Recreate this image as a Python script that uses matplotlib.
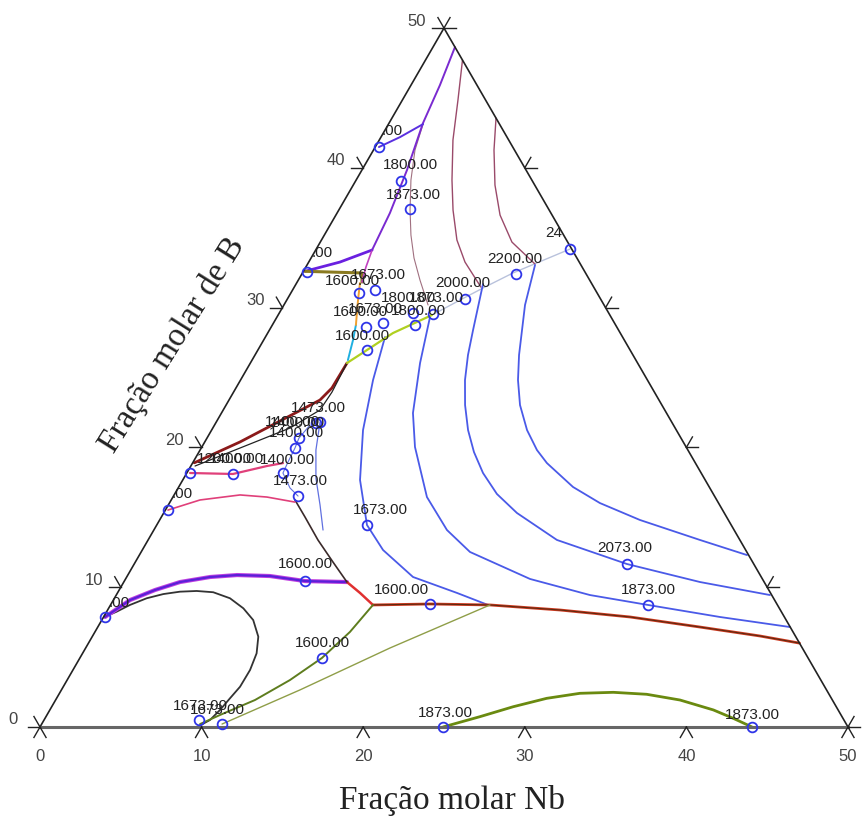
import numpy as np
import matplotlib
matplotlib.use("Agg")
import matplotlib.pyplot as plt

S3 = np.sqrt(3) / 2

# ---------------- axis ticks ----------------
tick_values = [0, 10, 20, 30, 40, 50]
tick_labels = ["0", "10", "20", "30", "40", "50"]

# ---------------- curves, points as (Nb, B) molar % ----------------
black_loop = [(0.1, 7.9), (0.62, 8.25), (1.20, 8.73), (2.00, 9.21), (2.88, 9.51), (3.82, 9.68),
              (4.83, 9.73), (5.90, 9.64), (7.15, 9.21), (8.34, 8.49), (9.37, 7.65), (10.28, 6.46),
              (10.77, 5.27), (10.96, 4.08), (10.94, 2.88), (10.73, 2.05), (10.53, 1.22),
              (10.27, 0.50), (9.72, 0.0)]
purple_1600 = [(0.09, 7.87), (1.03, 9.08), (2.22, 9.80), (3.48, 10.37), (5.16, 10.73),
               (6.76, 10.87), (8.83, 10.80), (11.18, 10.44), (13.81, 10.37)]
red_short = [(13.81, 10.37), (15.01, 9.59), (16.24, 8.73)]
redbrown_long = [(16.24, 8.73), (19.73, 8.80), (23.48, 8.73), (27.99, 8.37), (32.58, 7.87),
                 (37.27, 7.15), (41.30, 6.51), (44.0, 6.0)]
dark_mid = [(7.66, 16.24), (8.89, 15.02), (10.51, 13.38), (12.23, 11.80), (13.81, 10.37)]
pink_low = [(0.16, 15.52), (1.78, 16.24), (4.08, 16.60), (5.82, 16.45), (7.73, 16.09)]
pink_up = [(0.20, 18.17), (2.89, 18.10), (4.71, 18.67), (5.60, 18.88)]
brown_band = [(0.1, 18.9), (2.18, 20.39), (3.91, 21.89), (5.63, 23.39), (5.94, 24.25), (5.98, 26.04)]
black_band = [(0.26, 18.67), (2.87, 20.24), (4.78, 21.39), (5.99, 22.68), (6.09, 23.96), (5.98, 26.04)]
yellowgreen = [(5.98, 26.04), (6.87, 27.11), (7.75, 28.18), (9.52, 29.47)]
light_line = [(9.52, 29.47), (10.72, 30.54), (11.71, 31.40), (13.03, 32.48), (15.70, 34.19)]
cyan_seg = [(5.93, 26.25), (5.53, 27.68), (5.17, 28.76)]
orange_seg = [(5.17, 28.76), (4.41, 30.54), (3.92, 31.76)]
purple_ul = [(0.1, 32.6), (1.93, 33.26), (3.49, 34.12)]
olive_ul = [(0.1, 32.6), (3.69, 32.48), (4.01, 31.83)]
magenta_ul = [(3.49, 34.12), (3.72, 32.90), (4.01, 31.83)]
purple_main = [(1.36, 48.64), (1.79, 45.92), (2.10, 43.20), (2.79, 39.84), (3.27, 36.77), (3.49, 34.12)]
purple_top = [(0.23, 41.49), (1.18, 42.20), (2.14, 43.13)]
mauve_1 = [(2.14, 43.13), (2.57, 41.27), (3.39, 39.13), (4.41, 36.98), (5.36, 35.19),
           (6.37, 33.55), (7.53, 31.97), (8.92, 30.19)]
mauve_2 = [(2.29, 47.71), (3.44, 44.85), (4.56, 41.99), (5.93, 39.13), (7.07, 36.98),
           (8.38, 34.84), (9.67, 33.26), (11.55, 31.47)]
mauve_3 = [(6.44, 43.56), (7.46, 41.27), (8.77, 38.77), (10.16, 36.62), (11.86, 34.69), (14.07, 33.12)]
blue_A = [(7.40, 27.90), (8.20, 24.82), (9.37, 21.24), (10.97, 17.67), (13.01, 14.45),
          (14.90, 12.66), (17.72, 10.73), (21.01, 9.59), (23.36, 8.73)]
blue_B = [(9.47, 29.33), (10.50, 26.04), (11.85, 22.46), (13.19, 20.03), (15.72, 16.45),
          (18.14, 14.09), (20.35, 12.52), (25.03, 10.59), (29.31, 9.44), (33.26, 8.73),
          (38.14, 7.87), (42.84, 7.15)]
blue_C = [(11.57, 31.69), (12.60, 28.40), (13.18, 26.61), (13.89, 24.82), (14.79, 23.03),
          (15.87, 21.24), (17.02, 19.67), (18.33, 18.17), (19.94, 16.67), (21.86, 15.31),
          (25.30, 13.38), (30.49, 11.66), (35.66, 10.37), (40.45, 9.44)]
blue_D = [(14.11, 33.05), (14.92, 30.19), (15.63, 28.40), (16.34, 26.61), (17.17, 24.82),
          (18.19, 23.03), (19.52, 21.24), (20.85, 19.81), (21.93, 18.88), (24.40, 17.17),
          (26.64, 16.02), (29.72, 14.81), (34.15, 13.38), (37.60, 12.30)]
thin_blue_1 = [(6.42, 21.82), (7.17, 19.81), (8.17, 17.81), (9.39, 15.88), (10.47, 14.09)]
thin_blue_2 = [(5.91, 21.60), (5.69, 20.67), (5.80, 19.96), (5.87, 18.96), (5.95, 18.17),
               (6.92, 17.10), (7.71, 16.52)]
green_1 = [(16.24, 8.73), (15.78, 6.80), (14.98, 4.94), (13.79, 3.36), (12.34, 1.93),
           (10.71, 0.86), (9.80, 0.21)]
green_2 = [(23.48, 8.73), (18.83, 5.65), (14.76, 2.65), (11.16, 0.21)]
green_arc = [(24.94, 0.0), (26.86, 0.74), (28.56, 1.45), (30.33, 2.05), (32.21, 2.41),
             (34.24, 2.48), (36.37, 2.34), (38.64, 1.93), (41.06, 1.22), (42.59, 0.62),
             (44.06, 0.0)]

# labelled points: Nb, B, label, label offset (px)
pts_nb = [0.23, 2.81, 4.37, 0.25, 4.22, 5.10, 5.87, 6.78, 6.75, 8.28, 8.83, 9.55, 10.99, 13.26,
          15.70, 6.42, 6.20, 5.69, 5.80, 5.95, 2.89, 0.20, 7.71, 0.16, 13.01, 11.18, 0.09,
          19.73, 14.98, 9.59, 11.16, 24.94, 44.06, 30.49, 33.26]
pts_b = [41.49, 39.06, 37.05, 32.55, 31.04, 31.26, 28.61, 28.90, 26.97, 29.61, 28.76, 29.54,
         30.62, 32.40, 34.19, 21.82, 21.75, 20.67, 19.96, 18.17, 18.10, 18.17, 16.52, 15.52,
         14.45, 10.44, 7.87, 8.80, 4.94, 0.50, 0.21, 0.0, 0.0, 11.66, 8.73]
pts_lab = [".00", "1800.00", "1873.00", ".00", "1600.00", "1673.00", "1600.00", "1673.00",
           "1600.00", "1800.00", "1800.00", "1873.00", "2000.00", "2200.00", "24", "1473.00",
           "1400.00", "1400.00", "1400.00", "1400.00", "1400.00", "1200.00", "1473.00", ".00",
           "1673.00", "1600.00", ".00", "1600.00", "1600.00", "1673.00", "1673.00", "1873.00",
           "1873.00", "2073.00", "1873.00"]
pts_dx = [13, 9, 3, 15, -7, 3, -6, -8, -5, -5, 3, 3, -2, -1, -16, -2, -23, -2, 1, 4, 3, 34,
          2, 14, 13, 0, 14, -28, 0, 1, -5, 2, 0, -2, 0]
pts_dy = [16, 16, 14, 19, 12, 15, 15, 14, 14, 15, 14, 16, 16, 15, 16, 14, 1, 15, 15, 13, 15,
          14, 15, 16, 15, 17, 14, 14, 15, 14, 14, 14, 12, 16, 15]


def cart(points):
    a = np.asarray(points, dtype=float)
    nb, b = a[:, 0], a[:, 1]
    return nb + b / 2.0, b * S3


fig = plt.figure(figsize=(8.63, 8.23), dpi=100)
ax = fig.add_axes([0, 0, 1, 1])
ax.set_xlim(-2.475, 50.93)
ax.set_ylim(-5.948, 45.04)
ax.axis("off")

# frame
fx, fy = cart([(0, 0), (0, 50), (50, 0)])
ax.plot([fx[0], fx[1]], [fy[0], fy[1]], color="#222222", lw=1.2, zorder=5)
ax.plot([fx[1], fx[2]], [fy[1], fy[2]], color="#222222", lw=1.2, zorder=5)
ax.plot([fx[0], fx[2]], [fy[0], fy[2]], color="#666666", lw=2.2, zorder=5)

# ticks
L = 0.75
for v, lab in zip(tick_values, tick_labels):
    # bottom axis
    x0, y0 = cart([(v, 0)])
    x0, y0 = x0[0], y0[0]
    for sx in (-0.5, 0.5):
        ax.plot([x0, x0 + sx * L], [y0, y0 - S3 * L], color="#222222", lw=1.0, zorder=5)
    ax.annotate(lab, (x0, y0), xytext=(0, -30), textcoords="offset pixels", ha="center",
                va="center", fontsize=12, color="#444444", family="Liberation Sans")
    # left axis
    x1, y1 = cart([(0, v)])
    x1, y1 = x1[0], y1[0]
    ax.plot([x1, x1 - L], [y1, y1], color="#222222", lw=1.0, zorder=5)
    ax.plot([x1, x1 - 0.5 * L], [y1, y1 + S3 * L], color="#222222", lw=1.0, zorder=5)
    ax.annotate(lab, (x1, y1), xytext=(-27, 7), textcoords="offset pixels", ha="center",
                va="center", fontsize=12, color="#444444", family="Liberation Sans")
    # right axis
    x2, y2 = cart([(50 - v, v)])
    x2, y2 = x2[0], y2[0]
    ax.plot([x2, x2 + L], [y2, y2], color="#222222", lw=1.0, zorder=5)
    ax.plot([x2, x2 + 0.5 * L], [y2, y2 + S3 * L], color="#222222", lw=1.0, zorder=5)

curves = [
    (light_line, "#b9c2dc", 1.0),
    (mauve_1, "#a07080", 0.8),
    (mauve_2, "#9a4a6a", 1.0),
    (mauve_3, "#9a4a6a", 1.0),
    (blue_A, "#4a5ae8", 1.3),
    (blue_B, "#4a5ae8", 1.3),
    (blue_C, "#4a5ae8", 1.3),
    (blue_D, "#4a5ae8", 1.3),
    (thin_blue_1, "#6070e0", 0.9),
    (thin_blue_2, "#6070e0", 0.8),
    (black_loop, "#333333", 1.3),
    (purple_1600, "#c040e0", 3.0),
    (purple_1600, "#5a20d8", 1.6),
    (red_short, "#e03030", 1.8),
    (redbrown_long, "#d03a20", 2.0),
    (redbrown_long, "#5a2a10", 0.8),
    (dark_mid, "#3a2a2a", 1.2),
    (pink_low, "#e0407a", 1.2),
    (pink_up, "#e0407a", 1.6),
    (brown_band, "#8b1a1a", 2.0),
    (black_band, "#222222", 0.9),
    (yellowgreen, "#b0d020", 1.6),
    (cyan_seg, "#20b0e0", 1.4),
    (orange_seg, "#f0a030", 1.4),
    (purple_ul, "#6a20e0", 2.0),
    (olive_ul, "#8a7a20", 2.2),
    (magenta_ul, "#c040c0", 1.2),
    (purple_main, "#7a2ad0", 1.4),
    (purple_top, "#5a30e0", 1.4),
    (green_1, "#5e7d1e", 1.4),
    (green_2, "#8f9e48", 1.0),
    (green_arc, "#6a8a10", 2.0),
]
for pts, col, lw in curves:
    x, y = cart(pts)
    ax.plot(x, y, color=col, lw=lw, solid_capstyle="round", solid_joinstyle="round", zorder=3)

px, py = cart(list(zip(pts_nb, pts_b)))
ax.plot(px, py, ls="none", marker="o", ms=7, mfc="none", mec="#2f35e8", mew=1.3, zorder=6)
for x, y, lab, dx, dy in zip(px, py, pts_lab, pts_dx, pts_dy):
    ax.annotate(lab, (x, y), xytext=(dx, dy), textcoords="offset pixels", ha="center",
                va="center", fontsize=11, color="#222222", family="Liberation Sans", zorder=7)

fig.text(452 / 863, 1 - 800 / 823, "Fração molar Nb", ha="center", va="center",
         fontsize=24, family="Liberation Serif", color="#222222")
fig.text(172 / 863, 1 - 345 / 823, "Fração molar de B", ha="center", va="center",
         fontsize=24, family="Liberation Serif", color="#222222", rotation=58)

fig.savefig("out.png", dpi=100)
